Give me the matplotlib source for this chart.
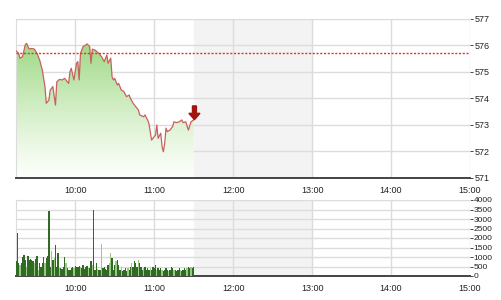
import numpy as np
import matplotlib.pyplot as plt
from matplotlib.patches import FancyArrow

# minutes after 9:15 and index value
price_min = [0, 2, 3, 5, 7, 8, 10, 12, 14, 16, 18, 20, 22, 23, 25, 26, 27, 28, 30, 31,
             33, 35, 37, 39, 40, 41, 42, 44, 46, 47, 48, 49, 51, 53, 54, 56, 57, 58, 60, 63,
             65, 67, 69, 70, 72, 73, 74, 75, 77, 78, 80, 82, 84, 86, 87, 89, 91, 93, 94, 97,
             98, 100, 101, 102, 103, 105, 106, 107, 108, 110, 111, 112, 113, 114, 115, 117, 119, 120, 122, 124,
             126, 127, 129, 130, 131, 133, 135]
price_val = [575.80, 575.70, 575.52, 575.58, 576.02, 576.08, 575.87, 575.89, 575.86, 575.70,
             575.45, 575.07, 574.45, 573.82, 573.94, 574.32, 574.38, 574.45, 573.75, 574.63,
             574.72, 574.70, 574.76, 574.63, 574.57, 575.01, 575.14, 574.70, 575.33, 575.39,
             574.70, 575.70, 575.96, 576.02, 576.06, 575.96, 575.33, 575.86, 575.83, 575.70,
             575.58, 575.39, 575.64, 575.33, 575.52, 574.82, 574.70, 574.76, 574.51, 574.57,
             574.32, 574.26, 574.07, 574.13, 574.00, 573.82, 573.69, 573.57, 573.38, 573.31,
             573.38, 573.19, 573.06, 572.75, 572.43, 572.56, 572.62, 573.00, 572.50, 572.69,
             572.18, 571.99, 572.31, 572.88, 572.75, 572.81, 572.94, 573.12, 573.09, 573.12,
             573.19, 573.09, 573.12, 572.96, 572.81, 573.12, 573.19]
ref_level = 575.73

# volume, one bar per minute from 9:15
volume = [770, 2260, 680, 600, 680, 1000, 1120, 860, 500, 1070, 860, 890, 860, 770, 680, 890,
          1030, 330, 680, 500, 680, 1000, 680, 950, 1030, 3400, 500, 1300, 860, 950, 1650, 500,
          1200, 420, 420, 350, 500, 1000, 680, 420, 330, 330, 420, 500, 420, 540, 500, 500,
          540, 500, 420, 600, 380, 500, 540, 420, 420, 770, 600, 3500, 330, 680, 380, 330,
          330, 1700, 420, 500, 350, 330, 600, 680, 1200, 950, 330, 600, 770, 860, 600, 330,
          500, 250, 330, 420, 250, 400, 330, 500, 680, 500, 770, 680, 500, 860, 680, 500,
          330, 420, 500, 330, 420, 330, 420, 330, 500, 420, 600, 330, 420, 300, 420, 330,
          250, 330, 420, 330, 250, 330, 500, 420, 330, 330, 250, 300, 420, 330, 250, 330,
          420, 300, 420, 500, 420, 500, 420, 500]
light_idx = [3, 8, 14, 17, 22, 27, 29, 33, 38, 44, 49, 55, 58, 62, 65, 71, 72, 76, 80, 85,
             88, 93, 97, 102, 107, 111, 116, 120, 125, 130, 133]

hour_ticks = [10, 11, 12, 13, 14, 15]
hour_labels = ["10:00", "11:00", "12:00", "13:00", "14:00", "15:00"]
price_ticks = [571, 572, 573, 574, 575, 576, 577]
vol_ticks = [0, 500, 1000, 1500, 2000, 2500, 3000, 3500, 4000]

t_price = 9.25 + np.array(price_min) / 60.0
t_vol = 9.25 + np.arange(len(volume)) / 60.0
vol_colors = ["#9cc886" if i in light_idx else "#2f6b22" for i in range(len(volume))]

plt.rcParams['font.family'] = ['Liberation Sans', 'DejaVu Sans']
fig = plt.figure(figsize=(5.01, 3.0), dpi=100)
ax1 = fig.add_axes([16 / 501, 1 - 178 / 300, 454 / 501, 159 / 300])
ax2 = fig.add_axes([16 / 501, 1 - 276 / 300, 454 / 501, 76 / 300])


def style(ax, ymin, ymax, yticks):
    ax.set_xlim(9.25, 15)
    ax.set_ylim(ymin, ymax)
    ax.axvspan(11.5, 13, color="#f3f3f3", zorder=0)
    ax.set_xticks(hour_ticks)
    ax.set_xticklabels(hour_labels)
    ax.set_yticks(yticks)
    ax.yaxis.tick_right()
    ax.grid(True, color="#dcdcdc", lw=1, zorder=1)
    ax.tick_params(axis="x", length=0, labelsize=6.5, pad=6, colors="#222222")
    ax.tick_params(axis="y", length=2, labelsize=6.5, pad=1, colors="#222222", width=0.6)
    for s in ["top", "left", "right"]:
        ax.spines[s].set_color("#dcdcdc")
    ax.spines["right"].set_visible(False)
    ax.spines["bottom"].set_color("#444444")
    ax.spines["bottom"].set_linewidth(1.4)


style(ax1, 571, 577, price_ticks)
style(ax2, 0, 4000, vol_ticks)
ax2.tick_params(axis="y", labelsize=6, pad=0.5)

# gradient fill under the price line
poly = ax1.fill_between(t_price, price_val, 571, color="none", zorder=2)
grad = np.linspace(0, 1, 256).reshape(-1, 1)
top = np.array([0.62, 0.85, 0.52])
bottom = np.array([0.99, 1.0, 0.98])
rgb = bottom + (top - bottom) * grad[..., None] ** 1.2
rgb = rgb.reshape(256, 1, 3)
img = ax1.imshow(rgb, extent=[t_price[0], t_price[-1], 571, 576.1], origin="lower",
                 aspect="auto", zorder=2)
img.set_clip_path(poly.get_paths()[0], transform=ax1.transData)
ax1.set_xlim(9.25, 15)
ax1.set_ylim(571, 577)

ax1.plot(t_price, price_val, color="#c9605e", lw=0.9, zorder=3)
ax1.axhline(ref_level, color="#e8302a", lw=1.0, ls=(0, (1.5, 1.2)), zorder=4)

ax1.add_patch(FancyArrow(t_price[-1] + 0.01, 573.72, 0, -0.52, width=0.05, head_width=0.14,
                         head_length=0.24, length_includes_head=True,
                         color="#a3140f", zorder=5))

ax2.bar(t_vol, volume, width=1.0 / 60, color=vol_colors, align="center", zorder=3,
        linewidth=0)

plt.savefig("out.png", dpi=100)
